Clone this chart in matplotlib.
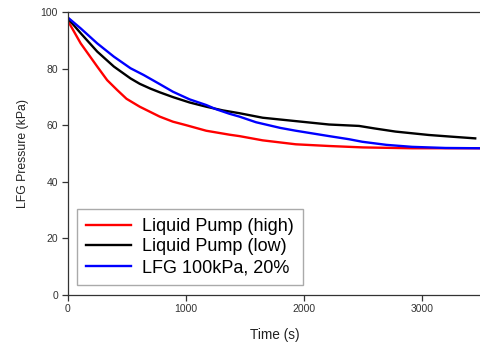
import matplotlib
matplotlib.use("Agg")
import matplotlib.pyplot as plt

plt.rcParams['font.family'] = ['Liberation Sans', 'DejaVu Sans']

# --- data ---
t_high = [0, 110, 250, 334, 419, 498, 610, 779, 891, 1000, 1173, 1370, 1454, 1651, 1932, 2213, 2500, 2916, 3200, 3500]
p_high = [97.0, 88.9, 80.7, 75.9, 72.4, 69.3, 66.5, 63.0, 61.2, 60.0, 58.0, 56.6, 56.1, 54.6, 53.2, 52.6, 52.1, 51.8, 51.8, 51.8]

t_low = [0, 110, 250, 391, 532, 610, 700, 779, 891, 1032, 1173, 1313, 1454, 1651, 1932, 2213, 2467, 2600, 2776, 3057, 3250, 3451]
p_low = [97.8, 92.5, 86.0, 80.7, 76.5, 74.6, 72.9, 71.6, 69.9, 68.0, 66.5, 65.2, 64.2, 62.6, 61.4, 60.2, 59.7, 58.8, 57.7, 56.5, 55.9, 55.3]

t_lfg = [0, 110, 250, 391, 532, 644, 779, 891, 1032, 1173, 1257, 1370, 1454, 1595, 1800, 1932, 2213, 2382, 2494, 2700, 2916, 3200, 3500]
p_lfg = [98.1, 94.2, 88.9, 84.2, 80.1, 77.7, 74.5, 71.8, 69.1, 67.1, 65.6, 64.0, 63.0, 61.0, 59.0, 58.0, 56.1, 55.0, 54.1, 53.0, 52.3, 51.9, 51.8]

labels = ['Liquid Pump (high)', 'Liquid Pump (low)', 'LFG 100kPa, 20%']
colors = ['#ff0000', '#000000', '#0000ff']

fig = plt.figure(figsize=(4.81, 3.43), dpi=100)
ax = fig.add_axes([67.7 / 481, 1 - 294.7 / 343, 413.3 / 481, 282.7 / 343])

for t, p, lab, c in zip([t_high, t_low, t_lfg], [p_high, p_low, p_lfg], labels, colors):
    ax.plot(t, p, color=c, lw=1.7, label=lab, solid_joinstyle='round')

ax.set_xlim(0, 3500)
ax.set_ylim(0, 100)
ax.set_xticks([0, 1000, 2000, 3000])
ax.set_yticks([0, 20, 40, 60, 80, 100])

for s in ['left', 'bottom', 'top']:
    ax.spines[s].set_color('#333333')
    ax.spines[s].set_linewidth(0.9)
ax.spines['right'].set_visible(False)
ax.tick_params(direction='out', length=4, width=0.9, color='#333333',
               labelsize=7.5, labelcolor='#333333', pad=3)

ax.set_xlabel('Time (s)', fontsize=9.8, color='#222222', labelpad=9.5)
ax.set_ylabel('LFG Pressure (kPa)', fontsize=8.8, color='#222222', labelpad=8)

leg = ax.legend(loc='lower left', bbox_to_anchor=(0.022, 0.034), fontsize=13,
                fancybox=False, framealpha=1, edgecolor='#aaaaaa',
                handlelength=2.5, handletextpad=0.6, labelspacing=0.2,
                borderpad=0.5, borderaxespad=0)
leg.get_frame().set_linewidth(1.0)

fig.savefig('out.png', dpi=100)
